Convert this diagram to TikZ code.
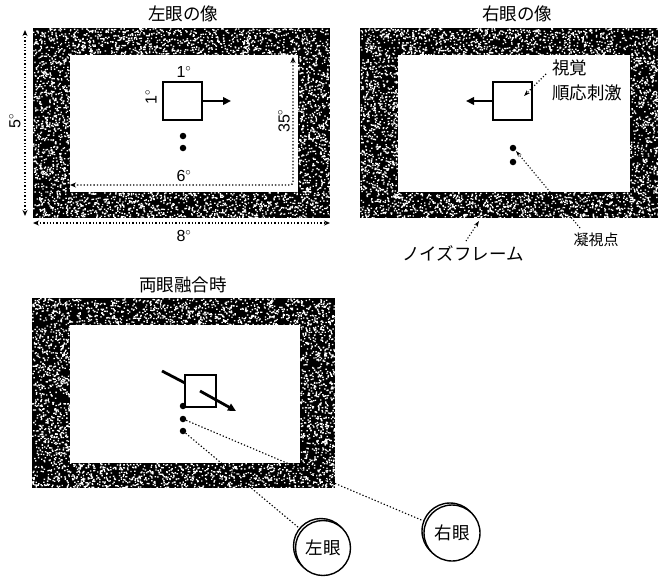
\documentclass[tikz,border=0pt]{standalone}
\usepackage{fontspec}
\setmainfont{Liberation Sans}
\newfontfamily\jpfont{Noto Sans CJK JP}
\usetikzlibrary{arrows.meta}
\newcommand\noiseband[4]{%
  \pgfmathtruncatemacro\nn{0.13*(#3-#1)*(#4-#2)}%
  \fill[white] foreach \k in {1,...,\nn} {({#1+rnd*(#3-#1)},{#2+rnd*(#4-#2)}) rectangle ++(1.4,1.3)};%
}
\newcommand\noiseframe[8]{%
  \fill[black] (#1,#2) rectangle (#3,#4);
  \fill[white] (#5,#6) rectangle (#7,#8);
  \noiseband{#1}{#2}{#3}{#6}
  \noiseband{#1}{#8}{#3}{#4}
  \noiseband{#1}{#6}{#5}{#8}
  \noiseband{#7}{#6}{#3}{#8}
}
\tikzset{
  jp/.style={font=\jpfont\fontsize{17.5}{20}\selectfont, inner sep=0pt},
  num/.style={font=\fontsize{16}{18}\selectfont, inner sep=0pt},
  stim/.style={draw=black, line width=1.5pt, fill=white},
  thickarrow/.style={line width=2.8pt, -{Triangle[length=8pt,width=7.5pt]}},
  thickline/.style={line width=2.8pt},
  dimline/.style={line width=1.3pt, dash pattern=on 1.3pt off 2pt, {Stealth[length=6pt,width=5pt]}-{Stealth[length=6pt,width=5pt]}},
  leader/.style={line width=1.1pt, dash pattern=on 1.1pt off 2pt, -{Stealth[length=6pt,width=4pt]}},
  plainleader/.style={line width=1.1pt, dash pattern=on 1.3pt off 2pt},
  fixdot/.style={circle, fill=black, inner sep=0pt, minimum size=6.5pt},
  eyespot/.style={circle, minimum size=55pt, inner sep=0pt},
  eye/.style={circle, draw=black, line width=1.4pt, fill=white, minimum size=55pt, inner sep=0pt, font=\jpfont\fontsize{17.5}{20}\selectfont},
}
\begin{document}
\begin{tikzpicture}[x=1pt,y=-1pt]
\useasboundingbox (0,0) rectangle (659,576);
\pgfmathsetseed{7}
% frames
\noiseframe{33}{28}{330}{218}{70}{55}{298}{192}
\noiseframe{360}{28}{658}{218}{398}{55}{630}{192}
\noiseframe{32}{298}{335}{488}{70}{325}{300}{463}

% titles
\node[jp] (t1) at (183,14) {左眼の像};
\node[jp] (t2) at (517,14) {右眼の像};
\node[jp] (t3) at (183,285) {両眼融合時};

% ---- left eye image
\node[stim, minimum width=39pt, minimum height=38pt, inner sep=0pt] (sqL) at (182.5,101) {};
\coordinate (aL) at (231,101);
\draw[thickarrow] (sqL.east) -- (aL);
\node[num] (l1a) at (184,72) {1$^{\circ}$};
\node[num, rotate=90] (l1b) at (151,97) {1$^{\circ}$};
\node[fixdot] (dL1) at (183,136) {};
\node[fixdot] (dL2) at (183,148) {};
\coordinate (c6a) at (70,185);
\coordinate (c6b) at (293,185);
\coordinate (c35) at (293,57);
\draw[dimline, rounded corners=3pt] (c6a) -- (c6b) -- (c35);
\node[num] (l6) at (184,176) {6$^{\circ}$};
\node[num, rotate=90] (l35) at (284,121) {35$^{\circ}$};
\coordinate (c5a) at (25,30);
\coordinate (c5b) at (25,216);
\draw[dimline] (c5a) -- (c5b);
\node[num, rotate=90] (l5) at (15,121) {5$^{\circ}$};
\coordinate (c8a) at (33,223);
\coordinate (c8b) at (330,223);
\draw[dimline] (c8a) -- (c8b);
\node[num] (l8) at (184,236) {8$^{\circ}$};

% ---- right eye image
\node[stim, minimum width=39pt, minimum height=38pt, inner sep=0pt] (sqR) at (512.5,101) {};
\coordinate (aR) at (466,101);
\draw[thickarrow] (sqR.west) -- (aR);
\node[jp, anchor=west] (vis1) at (552,68) {視覚};
\node[jp, anchor=west] (vis2) at (552,93) {順応刺激};
\coordinate (visS) at (546,74);
\coordinate (visE) at (524,96);
\draw[leader] (visS) -- (visE);
\node[fixdot] (dR1) at (513,148) {};
\node[fixdot] (dR2) at (513,162) {};
\node[jp, font=\jpfont\fontsize{15}{18}\selectfont] (fix) at (596,240) {凝視点};
\coordinate (fixS) at (580,228);
\coordinate (fixE) at (516,151);
\draw[leader] (fixS) -- (fixE);
\node[jp] (noise) at (463,253) {ノイズフレーム};
\coordinate (nS) at (466,241);
\coordinate (nE) at (479,221);
\draw[leader] (nS) -- (nE);

% ---- fused image
\node[stim, minimum width=31pt, minimum height=32pt, inner sep=0pt] (sqB) at (200.5,391) {};
\coordinate (lnS) at (162,371);
\coordinate (lnE) at (185,383);
\draw[thickline] (lnS) -- (lnE);
\coordinate (arS) at (200,391);
\coordinate (arE) at (236,411);
\draw[thickarrow] (arS) -- (arE);
\node[fixdot] (dB1) at (183,406) {};
\node[fixdot] (dB2) at (183,419) {};
\node[fixdot] (dB3) at (183,431) {};

% eyes
\node[eyespot] (le) at (323,548) {};
\node[eyespot, minimum size=56pt] (re) at (452,533) {};
\draw[plainleader] (dB2) -- (re);
\draw[plainleader] (dB3) -- (le);
\draw[line width=1.4pt, fill=white] (321,546) circle (27.5pt);
\node[eye] (le2) at (le.center) {左眼};
\draw[line width=1.4pt, fill=white] (450,531) circle (28pt);
\node[eye, minimum size=56pt] (re2) at (re.center) {右眼};
\end{tikzpicture}
\end{document}
